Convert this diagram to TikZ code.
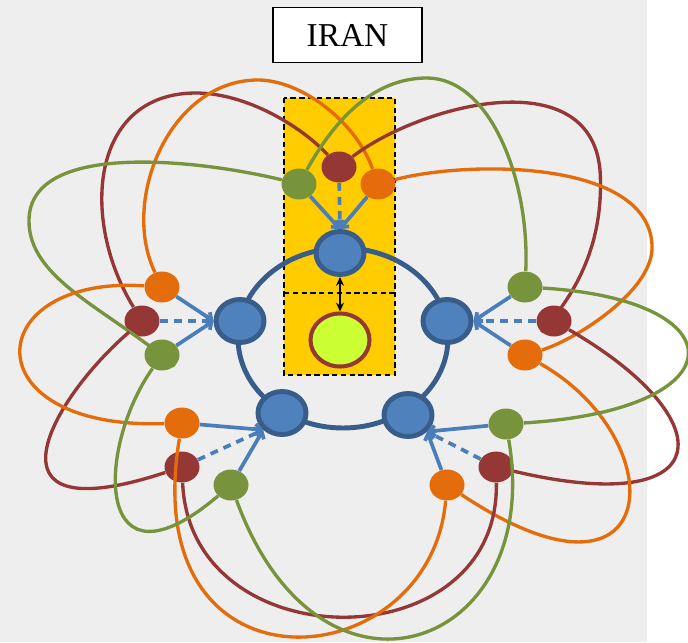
\documentclass[tikz,border=0pt]{standalone}
\usepackage{fontspec}
\setmainfont{Liberation Serif}
\usepackage{tikz}
\usetikzlibrary{arrows.meta,shapes.geometric}
\definecolor{paper}{HTML}{EEEEEE}
\definecolor{zonefill}{HTML}{FFCC00}
\definecolor{hubfill}{HTML}{4F81BD}
\definecolor{hubline}{HTML}{385D8A}
\definecolor{spokeblue}{HTML}{4A7EBB}
\definecolor{rust}{HTML}{953735}
\definecolor{tangerine}{HTML}{E46C0A}
\definecolor{leaf}{HTML}{77933C}
\definecolor{limefill}{HTML}{CCFF33}
\tikzset{hub/.style={ellipse,draw=hubline,fill=hubfill,line width=2.8pt,minimum width=.96cm,minimum height=.86cm,inner sep=0pt},sat/.style={ellipse,minimum width=.7cm,minimum height=.62cm,inner sep=0pt},rsat/.style={sat,fill=rust},osat/.style={sat,fill=tangerine},gsat/.style={sat,fill=leaf},rloop/.style={draw=rust,line width=1.9pt},oloop/.style={draw=tangerine,line width=1.9pt},gloop/.style={draw=leaf,line width=1.9pt},spoke/.style={-{Straight Barb[length=3pt,width=6pt]},draw=spokeblue,line width=2.1pt},dspoke/.style={spoke,dash pattern=on 4.5pt off 3.5pt},zone/.style={fill=zonefill,draw=black,line width=.8pt,dash pattern=on 3pt off 2pt},ring/.style={draw=hubline,line width=2.8pt}}

\begin{document}
\begin{tikzpicture}[x=.02cm,y=-.02cm]
 \useasboundingbox (0,0) rectangle (688,642);
 \fill[paper] (0,0) rectangle (647,642); \fill[white] (647,0) rectangle (688,642);
 \draw[zone] (284,98) rectangle (395,375); \draw[black,line width=.8pt,dash pattern=on 3pt off 2pt] (284,293) -- (395,293);
 \draw[ring] (343,338) ellipse [x radius=2.1cm,y radius=1.8cm];
 \node[draw,line width=1.1pt,fill=white,minimum width=2.98cm,minimum height=1.1cm,font=\fontsize{19}{22}\selectfont] (title) at (347.5,35) {IRAN};
 \node[hub] (t) at (340,253) {}; \node[hub] (l) at (240,321) {}; \node[hub] (r) at (447,321) {};
 \node[hub] (bl) at (282,413) {}; \node[hub] (br) at (408,415) {};
 \node[ellipse,draw=rust,fill=limefill,line width=2.3pt,minimum width=1.18cm,minimum height=1.06cm] (core) at (340,340) {};
 \node[gsat] (tgre) at (299,184) {}; \node[rsat] (tred) at (339,167) {}; \node[osat] (tora) at (378,184) {};
 \node[osat] (lora) at (162,287) {}; \node[rsat] (lred) at (142,321) {}; \node[gsat] (lgre) at (162,355) {};
 \node[gsat] (rgre) at (525,287) {}; \node[rsat] (rred) at (554,321) {}; \node[osat] (rora) at (525,355) {};
 \node[osat] (blora) at (182,423) {}; \node[rsat] (blred) at (182,467) {}; \node[gsat] (blgre) at (231,485) {};
 \node[gsat] (brgre) at (506,424) {}; \node[rsat] (brred) at (496,467) {}; \node[osat] (brora) at (447,485) {};
 \draw[rloop] (tred) .. controls (300,125) and (245,93) .. (196,93) .. controls (90,93) and (80,220) .. (lred);
 \draw[oloop] (tora) .. controls (355,120) and (300,80) .. (258,80) .. controls (170,80) and (120,200) .. (lora);
 \draw[gloop] (tgre) .. controls (200,160) and (30,140) .. (29,220) .. controls (28,280) and (110,310) .. (lgre.south east);
 \draw[rloop] (tred) .. controls (420,105) and (590,60) .. (600,170) .. controls (605,250) and (570,300) .. (rred.south west);
 \draw[oloop] (tora) .. controls (470,160) and (648,160) .. (652,245) .. controls (655,290) and (575,340) .. (rora);
 \draw[gloop] (tgre) .. controls (340,110) and (380,78) .. (427,78) .. controls (490,78) and (530,180) .. (rgre);
 \draw[rloop] (rred) .. controls (725,420) and (720,520) .. (brred);
 \draw[oloop] (rora) .. controls (675,440) and (665,630) .. (brora);
 \draw[gloop] (rgre) .. controls (740,300) and (740,410) .. (brgre);
 \draw[rloop] (brred) .. controls (500,662) and (190,662) .. (blred);
 \draw[oloop] (brora) .. controls (430,680) and (135,705) .. (blora);
 \draw[gloop] (brgre) .. controls (545,650) and (320,730) .. (blgre);
 \draw[rloop] (lred) .. controls (50,400) and (-25,535) .. (blred);
 \draw[oloop] (lora) .. controls (-20,275) and (-30,430) .. (blora);
 \draw[gloop] (lgre) .. controls (95,450) and (95,600) .. (blgre);
 \draw[spoke] (tgre) -- (t.north); \draw[dspoke] (tred) -- (t.north); \draw[spoke] (tora) -- (t.north);
 \draw[spoke] (lora) -- (l.west); \draw[dspoke] (lred) -- (l.west); \draw[spoke] (lgre) -- (l.west);
 \draw[spoke] (rgre) -- (r.east); \draw[dspoke] (rred) -- (r.east); \draw[spoke] (rora) -- (r.east);
 \draw[spoke] (blora) -- (bl.-138); \draw[dspoke] (blred) -- (bl.-138); \draw[spoke] (blgre) -- (bl.-138);
 \draw[spoke] (brgre) -- (br.-41); \draw[dspoke] (brred) -- (br.-41); \draw[spoke] (brora) -- (br.-41);
 \draw[{Stealth[length=5pt,width=4.5pt]}-{Stealth[length=5pt,width=4.5pt]},line width=1pt] (t) -- (core);
\end{tikzpicture}
\end{document}
